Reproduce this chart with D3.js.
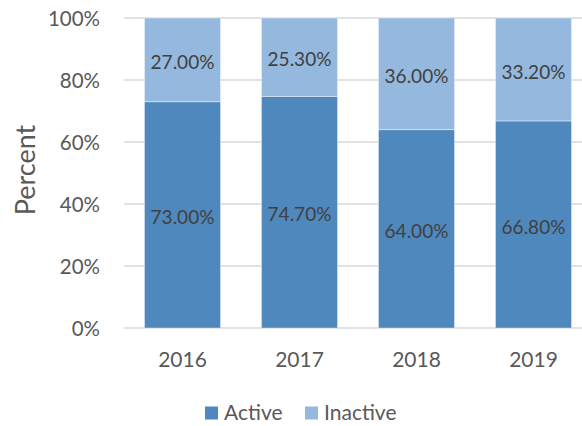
<!DOCTYPE html>
<html><head><meta charset="utf-8">
<script src="https://cdn.jsdelivr.net/npm/d3@7"></script>
<style>body{margin:0;background:#fff}svg{display:block}</style>
</head><body>
<svg id="c" width="582" height="426"></svg>
<script>
const categories = ["2016", "2017", "2018", "2019"];
const active = [73.0, 74.7, 64.0, 66.8];
const inactive = [27.0, 25.3, 36.0, 33.2];
const yTicks = [0, 20, 40, 60, 80, 100];
const seriesNames = ["Active", "Inactive"];
const colors = ["#4f88bd", "#95b8df"];

const svg = d3.select("#c");
const font = "Lato, 'Open Sans', sans-serif";
const x = d3.scaleBand().domain(categories).range([124, 592]).paddingInner(0.35).paddingOuter(0.175);
const y = d3.scaleLinear().domain([0, 100]).range([328, 18]);

// gridlines
svg.append("g").selectAll("line").data(yTicks).join("line")
  .attr("x1", 124).attr("x2", 582)
  .attr("y1", d => y(d)).attr("y2", d => y(d))
  .attr("stroke", "#d9d9d9").attr("stroke-width", 1.5);

// y tick labels
svg.append("g").selectAll("text").data(yTicks).join("text")
  .attr("x", 100).attr("y", d => y(d) + 1).attr("dy", "0.35em")
  .attr("text-anchor", "end").attr("font-family", font).attr("font-size", 20.5)
  .attr("fill", "#595959").text(d => d + "%");

// y title
svg.append("text").attr("transform", "translate(35,170) rotate(-90)")
  .attr("text-anchor", "middle").attr("font-family", font).attr("font-size", 27)
  .attr("fill", "#595959").text("Percent");

const stackData = categories.map((c, i) => ({cat: c, Active: active[i], Inactive: inactive[i]}));
const stack = d3.stack().keys(seriesNames)(stackData);

const g = svg.append("g");
stack.forEach((s, si) => {
  g.selectAll(null).data(s).join("rect")
    .attr("x", d => x(d.data.cat)).attr("width", x.bandwidth())
    .attr("y", d => y(d[1])).attr("height", d => y(d[0]) - y(d[1]))
    .attr("fill", colors[si]).attr("stroke", "#ffffff").attr("stroke-opacity", 0.4).attr("stroke-width", 1);
});
stack.forEach((s, si) => {
  g.selectAll(null).data(s).join("text")
    .attr("x", d => x(d.data.cat) + x.bandwidth() / 2)
    .attr("y", d => (y(d[0]) + y(d[1])) / 2 + 2.5).attr("dy", "0.35em")
    .attr("text-anchor", "middle").attr("font-family", font).attr("font-size", 19)
    .attr("fill", "#404040").text(d => (d[1] - d[0]).toFixed(2) + "%");
});

// x labels
svg.append("g").selectAll("text").data(categories).join("text")
  .attr("x", d => x(d) + x.bandwidth() / 2).attr("y", 360).attr("dy", "0.35em")
  .attr("text-anchor", "middle").attr("font-family", font).attr("font-size", 21)
  .attr("fill", "#595959").text(d => d);

// legend
const legX = [205, 305];
const lg = svg.append("g");
seriesNames.forEach((n, i) => {
  lg.append("rect").attr("x", legX[i]).attr("y", 406.5).attr("width", 13).attr("height", 13).attr("fill", colors[i]);
  lg.append("text").attr("x", legX[i] + 19).attr("y", 413).attr("dy", "0.35em")
    .attr("font-family", font).attr("font-size", 21).attr("fill", "#595959").text(n);
});
</script>
</body></html>
